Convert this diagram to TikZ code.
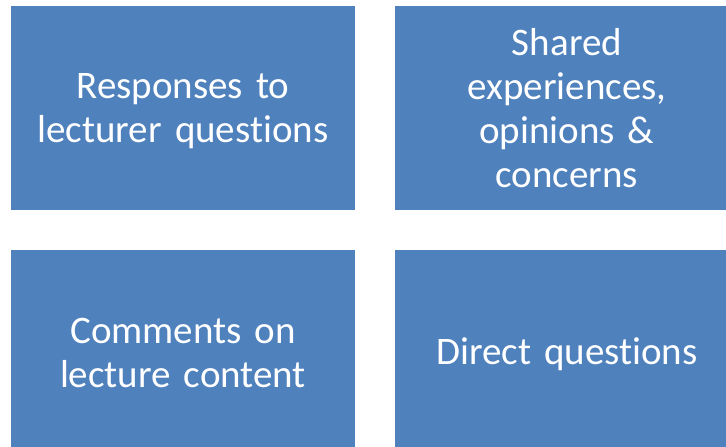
\documentclass[tikz,border=0pt]{standalone}
\usepackage{fontspec}
\setmainfont{Carlito}[Ligatures=NoCommon,WordSpace=0.95]
\definecolor{boxblue}{HTML}{4F81BD}
\begin{document}
\begin{tikzpicture}[x=1pt,y=-1pt,
  tile/.style={rectangle, fill=boxblue, draw=none, minimum width=344pt, minimum height=204pt, inner sep=0pt},
  lbl/.style={text=white, align=center, text width=340pt, inner sep=0pt,
    font=\fontsize{39}{44}\selectfont}]
\useasboundingbox (0,0) rectangle (726,447);
\clip (0,0) rectangle (726,447);
\node[tile] (a) at (183,108) {};
\node[tile] (b) at (567,108) {};
\node[tile] (c) at (183,352) {};
\node[tile] (d) at (567,352) {};
\node[lbl] (ta) at ([yshift=-3pt]a.center) {Responses to\\lecturer questions};
\node[lbl] (tb) at (b.center) {Shared\\experiences,\\opinions \&\\concerns};
\node[lbl] (tc) at ([yshift=-1pt]c.center) {Comments on\\lecture content};
\node[lbl] (td) at ([yshift=-2pt]d.center) {Direct questions};
\end{tikzpicture}
\end{document}
